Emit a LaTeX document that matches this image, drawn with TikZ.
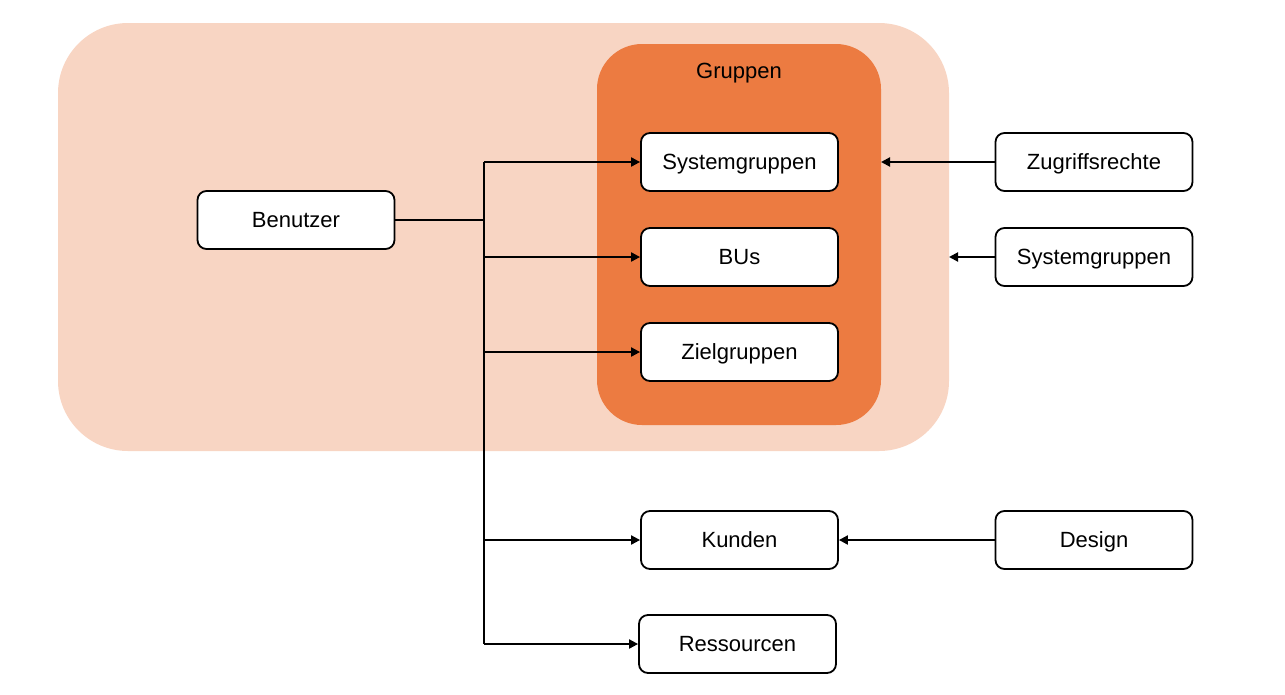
\documentclass[tikz,border=0pt]{standalone}
\usepackage{fontspec}
\setmainfont{Liberation Sans}
\usetikzlibrary{arrows.meta,calc}
\definecolor{lightpeach}{HTML}{F8D5C3}
\definecolor{orangeg}{HTML}{EC7B41}
\begin{document}
\begin{tikzpicture}[x=1pt,y=-1pt,
  txt/.style={font=\fontsize{22}{26}\selectfont,text height=20pt,text depth=4.2pt},
  box/.style={txt,draw=black,line width=1.8pt,fill=white,rounded corners=9pt,minimum width=197pt,minimum height=58pt,inner sep=0pt},
  conn/.style={line width=2pt,draw=black},
  arr/.style={conn,-{Triangle[length=9pt,width=9pt]}}]
\useasboundingbox (0,0) rectangle (1285,694);
\fill[lightpeach,rounded corners=70pt] (58,23) rectangle (949,451);
\fill[orangeg,rounded corners=45pt] (597,44) rectangle (881,425);
\node[txt,inner sep=0pt] (gr) at (739,71) {Gruppen};
\coordinate (outerE) at (949,257);
\coordinate (innerE) at (881,162);
\node[box] (sys) at (739.5,162) {Systemgruppen};
\node[box] (bus) at (739.5,257) {BUs};
\node[box] (ziel) at (739.5,352) {Zielgruppen};
\node[box] (ben) at (296,220) {Benutzer};
\node[box] (zug) at (1094,162) {Zugriffsrechte};
\node[box] (sys2) at (1094,257) {Systemgruppen};
\node[box] (kun) at (739.5,540) {Kunden};
\node[box] (des) at (1094,540) {Design};
\node[box] (res) at (737.5,644) {Ressourcen};
\coordinate (tTop) at (484,162);
\coordinate (tBot) at (484,644);
\draw[conn] (ben.east) -- (ben.east -| tTop);
\draw[conn] (tTop) -- (tBot);
\draw[arr] (tTop) -- (sys.west);
\draw[arr] (bus.west -| tTop) -- (bus.west);
\draw[arr] (ziel.west -| tTop) -- (ziel.west);
\draw[arr] (kun.west -| tTop) -- (kun.west);
\draw[arr] (tBot) -- (res.west);
\draw[arr] (zug.west) -- (innerE);
\draw[arr] (sys2.west) -- (outerE);
\draw[arr] (des.west) -- (kun.east);
\end{tikzpicture}
\end{document}
